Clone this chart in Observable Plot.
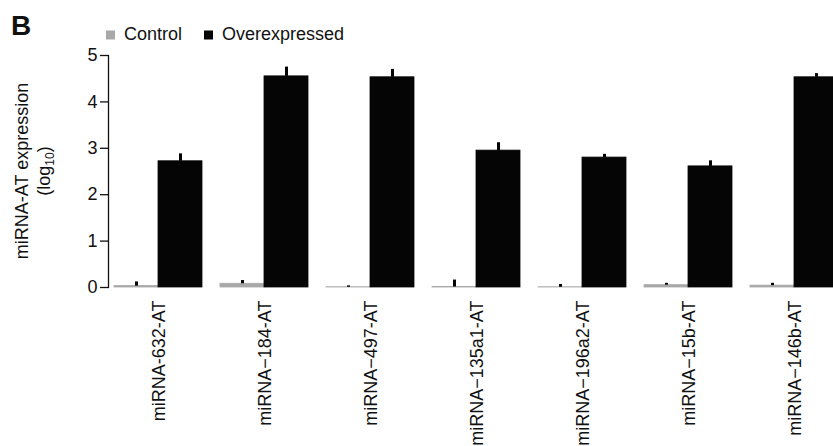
<!DOCTYPE html>
<html><head><meta charset="utf-8">
<script src="https://cdn.jsdelivr.net/npm/d3@7"></script>
<script src="https://cdn.jsdelivr.net/npm/@observablehq/plot@0.6"></script>
<style>
html,body{margin:0;padding:0;overflow:hidden;background:#fff;width:833px;height:446px}
#wrap{position:relative;width:833px;height:446px;overflow:hidden;font-family:"Liberation Sans",Arial,sans-serif;}
#wrap svg{position:absolute;left:0;top:0;max-width:none !important}
</style></head><body><div id="wrap"></div>
<script>
const categories = ["miRNA-632-AT","miRNA\u2212184-AT","miRNA\u2212497-AT","miRNA\u2212135a1-AT","miRNA\u2212196a2-AT","miRNA\u221215b-AT","miRNA\u2212146b-AT"];
const series = ["Control","Overexpressed"];
const controlValues = [0.03, 0.08, 0.005, 0.01, 0.005, 0.05, 0.04];
const controlErrors = [0.09, 0.07, 0.03, 0.15, 0.06, 0.04, 0.05];
const overValues = [2.72, 4.55, 4.53, 2.95, 2.80, 2.61, 4.53];
const overErrors = [0.16, 0.20, 0.17, 0.17, 0.07, 0.12, 0.08];
const yTicks = [0, 1, 2, 3, 4, 5];
const colors = ["#a8a8a8", "#050505"];
const panelLetter = "B";
const yLabel = "miRNA-AT expression";

const rows = categories.flatMap((c, i) => [
  {cat: c, s: series[0], v: controlValues[i], e: controlErrors[i]},
  {cat: c, s: series[1], v: overValues[i], e: overErrors[i]}
]);

const font = "Liberation Sans, Arial, sans-serif";
const chart = Plot.plot({
  width: 842, height: 446,
  marginTop: 55, marginBottom: 159, marginLeft: 105, marginRight: 0,
  style: {fontFamily: font, fontSize: "18px", color: "#111", background: "transparent", maxWidth: "none"},
  fx: {domain: categories, paddingInner: 0.112, paddingOuter: 0, label: null},
  x: {domain: series, paddingInner: 0, paddingOuter: 0.0556, align: 1, axis: null},
  y: {domain: [0, 5], ticks: yTicks},
  color: {domain: series, range: colors},
  marks: [
    Plot.barY(rows, {fx: "cat", x: "s", y: "v", fill: "s", stroke: "s", strokeWidth: 0.8}),
    Plot.ruleX(rows, {fx: "cat", x: "s", y1: "v", y2: d => d.v + d.e, stroke: "#000", strokeWidth: 3}),
    Plot.axisY({ticks: yTicks, tickFormat: d => String(d), tickSize: 8, tickPadding: 3, label: null, fontSize: 18, stroke: "#111", strokeWidth: 1.3}),
    Plot.axisFx({anchor: "bottom", tickRotate: -90, tickSize: 0, tickPadding: 13, dx: 4, label: null, fontSize: 18}),
    Plot.frame({anchor: "left", facetAnchor: "left", stroke: "#111", strokeWidth: 1.3})
  ]
});
chart.style.maxWidth = "none";
document.getElementById("wrap").appendChild(chart);

// overlay: panel letter, legend, y label
const ov = d3.select("#wrap").append("svg").attr("width", 833).attr("height", 446)
  .style("font-family", font).style("pointer-events", "none");
ov.append("text").attr("x", 11).attr("y", 35).attr("font-size", 28).attr("font-weight", "bold").attr("fill", "#111").text(panelLetter);

const legendX = [106, 204];
series.forEach((s, i) => {
  ov.append("rect").attr("x", legendX[i]).attr("y", 30.5).attr("width", 9).attr("height", 9).attr("fill", colors[i]);
  ov.append("text").attr("x", legendX[i] + 18).attr("y", 40).attr("font-size", 18).attr("fill", "#111").text(s);
});

ov.append("text").attr("transform", "translate(28,171) rotate(-90)").attr("text-anchor", "middle")
  .attr("font-size", 18).attr("fill", "#111").text(yLabel);
const l2 = ov.append("text").attr("transform", "translate(50,171) rotate(-90)").attr("text-anchor", "middle")
  .attr("font-size", 18).attr("fill", "#111");
l2.append("tspan").text("(log");
l2.append("tspan").attr("font-size", 12).attr("dy", 4).text("10");
l2.append("tspan").attr("dy", -4).text(")");
</script></body></html>
